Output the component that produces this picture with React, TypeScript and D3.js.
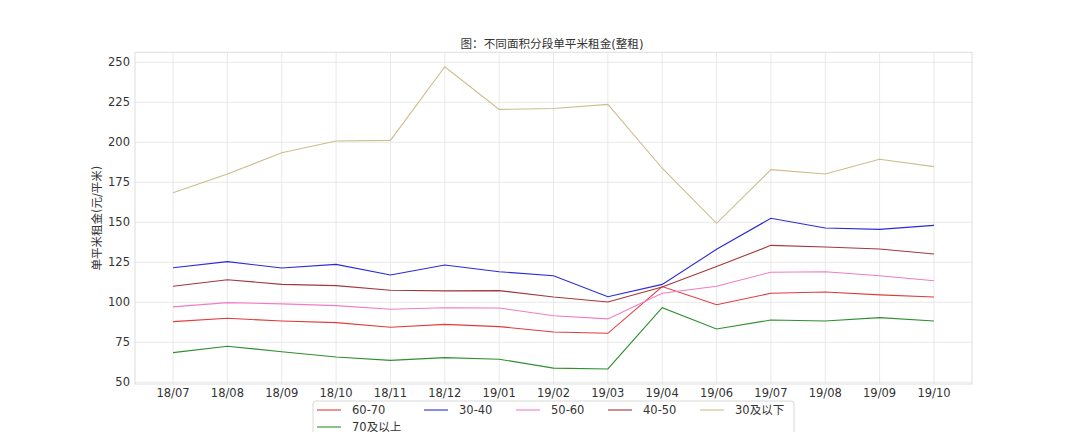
import * as d3 from "d3";

const months = [
  "18/07", "18/08", "18/09", "18/10", "18/11", "18/12", "19/01", "19/02",
  "19/03", "19/04", "19/06", "19/07", "19/08", "19/09", "19/10",
];

const rent6070 = [87.9, 90.0, 88.3, 87.3, 84.4, 86.2, 84.8, 81.4, 80.6, 109.8, 98.5, 105.6, 106.4, 104.6, 103.3];
const rent70up = [68.5, 72.5, 69.1, 65.8, 63.7, 65.4, 64.4, 58.8, 58.3, 96.6, 83.3, 88.9, 88.3, 90.4, 88.3];
const rent3040 = [121.6, 125.4, 121.4, 123.7, 117.1, 123.3, 119.1, 116.6, 103.5, 111.2, 133.1, 152.5, 146.4, 145.6, 148.1];
const rent5060 = [97.1, 99.8, 99.0, 97.9, 95.6, 96.6, 96.4, 91.6, 89.6, 105.6, 110.0, 118.8, 119.1, 116.6, 113.5];
const rent4050 = [110.0, 114.1, 111.2, 110.4, 107.5, 107.1, 107.3, 103.3, 100.2, 109.5, 122.3, 135.6, 134.6, 133.3, 130.2];
const rent30down = [168.5, 180.2, 193.5, 200.8, 201.2, 247.3, 220.6, 221.2, 223.7, 183.8, 149.4, 182.9, 180.2, 189.4, 184.8];

const yTicks = [50, 75, 100, 125, 150, 175, 200, 225, 250];

// legend order (matplotlib column-major, ncol=5)
const series = [
  { name: "60-70", values: rent6070, color: "#e23b3b" },
  { name: "70及以上", values: rent70up, color: "#2f8f2f" },
  { name: "30-40", values: rent3040, color: "#2a2ad8" },
  { name: "50-60", values: rent5060, color: "#f07cc4" },
  { name: "40-50", values: rent4050, color: "#a3383c" },
  { name: "30及以下", values: rent30down, color: "#cbbd8c" },
];
const legendColumns = [[0, 1], [2], [3], [4], [5]];

const W = 1080;
const H = 432;
const left = 135;
const right = 972;
const top = 52.3;
const bottom = 384;

const FONT = "'DejaVu Sans', 'Noto Sans CJK SC', sans-serif";
const TEXT = "#333333";
const GRID = "#e3e3e3";

function textWidth(s: string) {
  let w = 0;
  for (const ch of s) {
    if (/[0-9]/.test(ch)) w += 7;
    else if (ch === "-") w += 4;
    else w += 11;
  }
  return w;
}

export default function App() {
  const x = d3.scalePoint<string>().domain(months).range([left, right]).padding(0.7);
  const y = d3.scaleLinear().domain([48.9, 256.3]).range([bottom, top]);

  const line = d3
    .line<number>()
    .x((_, i) => x(months[i]) as number)
    .y((d) => y(d));

  // legend layout
  const legX = 313;
  const legY = 401;
  let cx = legX + 4;
  const colX: number[] = [];
  legendColumns.forEach((col) => {
    colX.push(cx);
    const maxW = Math.max(...col.map((i) => textWidth(series[i].name)));
    cx += 24 + 11 + maxW + 25;
  });

  return (
    <svg
      width={W}
      height={H}
      style={{ position: "absolute", left: 0, top: 0, background: "#fff" }}
      fontFamily={FONT}
    >
      <rect x={0} y={0} width={W} height={H} fill="#fff" />
      {/* grid */}
      {yTicks.map((t) => (
        <line key={"gy" + t} x1={left} x2={right} y1={y(t)} y2={y(t)} stroke={GRID} strokeWidth={0.8} />
      ))}
      {months.map((m) => (
        <line key={"gx" + m} x1={x(m)} x2={x(m)} y1={top} y2={bottom} stroke={GRID} strokeWidth={0.8} />
      ))}
      <rect x={left} y={top} width={right - left} height={bottom - top} fill="none" stroke="#dedede" strokeWidth={1} />

      {/* axes labels */}
      {yTicks.map((t) => (
        <text key={"ty" + t} x={130} y={y(t)} dy="0.35em" textAnchor="end" fontSize={11.5} fill={TEXT}>
          {t}
        </text>
      ))}
      {months.map((m) => (
        <text key={"tx" + m} x={x(m)} y={397} textAnchor="middle" fontSize={11.5} fill={TEXT}>
          {m}
        </text>
      ))}
      <text
        transform={`translate(101,${(top + bottom) / 2}) rotate(-90)`}
        textAnchor="middle"
        fontSize={11.5}
        fill={TEXT}
      >
        单平米租金(元/平米)
      </text>
      <text x={552} y={47.5} textAnchor="middle" fontSize={11.6} fill={TEXT}>
        图：不同面积分段单平米租金(整租)
      </text>

      {/* lines */}
      {series.map((s) => (
        <path key={s.name} d={line(s.values) || ""} fill="none" stroke={s.color} strokeWidth={1.1} />
      ))}

      {/* legend */}
      <rect x={legX} y={legY} width={481} height={50} rx={3} fill="#fff" fillOpacity={0.8} stroke="#d8d8d8" strokeWidth={1} />
      {legendColumns.map((col, ci) =>
        col.map((si, ri) => {
          const s = series[si];
          const ly = 410 + ri * 17;
          return (
            <g key={s.name}>
              <line x1={colX[ci]} x2={colX[ci] + 24} y1={ly} y2={ly} stroke={s.color} strokeWidth={1.1} />
              <text x={colX[ci] + 35} y={ly} dy="0.35em" fontSize={11.5} fill={TEXT}>
                {s.name}
              </text>
            </g>
          );
        })
      )}
    </svg>
  );
}
